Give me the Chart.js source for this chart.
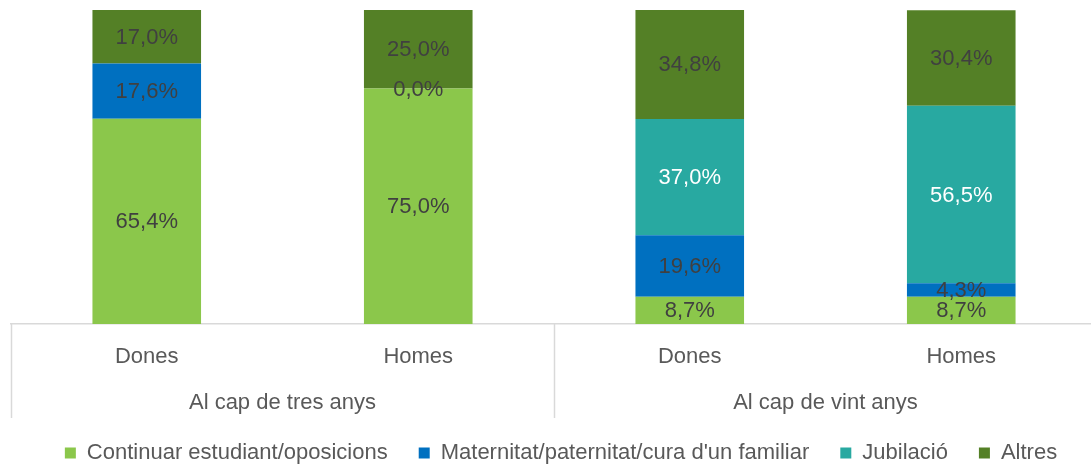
<!DOCTYPE html>
<html>
<head>
<meta charset="utf-8">
<script src="https://cdn.jsdelivr.net/npm/chart.js@4.4.1/dist/chart.umd.min.js"></script>
<style>
  html, body { margin: 0; padding: 0; background: #ffffff; overflow: hidden; width: 1091px; height: 466px; }
  #wrap { width: 1091px; height: 466px; overflow: hidden; position: relative; }
  canvas { display: block; }
</style>
</head>
<body>
<div id="wrap"><canvas id="c" width="1114" height="474"></canvas></div>
<script>
// ---- data ----
const categories = ['Dones', 'Homes', 'Dones', 'Homes'];
const groups = ['Al cap de tres anys', 'Al cap de vint anys'];
const seriesNames = ['Continuar estudiant/oposicions', "Maternitat/paternitat/cura d'un familiar", 'Jubilació', 'Altres'];
const continuar = [65.4, 75.0, 8.7, 8.7];
const maternitat = [17.6, 0.0, 19.6, 4.3];
const jubilacio = [null, null, 37.0, 56.5];
const altres = [17.0, 25.0, 34.8, 30.4];

const colors = ['#8BC74B', '#0070C0', '#28A9A1', '#548026'];
const labelColors = ['#404040', '#404040', '#ffffff', '#404040'];
const FONT = "'Liberation Sans', Arial, sans-serif";

const seriesValues = [continuar, maternitat, jubilacio, altres];

const valueLabels = {
  id: 'valueLabels',
  afterDatasetsDraw(chart) {
    const ctx = chart.ctx;
    ctx.save();
    ctx.font = '22px ' + FONT;
    ctx.textAlign = 'center';
    ctx.textBaseline = 'middle';
    chart.data.datasets.forEach((ds, di) => {
      const meta = chart.getDatasetMeta(di);
      meta.data.forEach((el, i) => {
        const v = ds.data[i];
        if (v === null || v === undefined) return;
        const p = el.getProps(['x', 'y', 'base'], true);
        ctx.fillStyle = labelColors[di];
        ctx.fillText(v.toFixed(1).replace('.', ',') + '%', p.x, (p.y + p.base) / 2 + 1);
      });
    });
    ctx.restore();
  }
};

const groupAxis = {
  id: 'groupAxis',
  afterDraw(chart) {
    const xs = chart.scales.x;
    const gs = chart.scales.x2;
    const ctx = chart.ctx;
    const top = chart.chartArea.bottom;
    const bottom = 418;
    const mid = (xs.getPixelForValue(1) + xs.getPixelForValue(2)) / 2;
    ctx.save();
    ctx.strokeStyle = '#d9d9d9';
    ctx.lineWidth = 1.5;
    [xs.left, mid, xs.right].forEach(x => {
      ctx.beginPath();
      ctx.moveTo(Math.round(x) + 0.5, top);
      ctx.lineTo(Math.round(x) + 0.5, bottom);
      ctx.stroke();
    });
    ctx.fillStyle = '#595959';
    ctx.font = '22px ' + FONT;
    ctx.textAlign = 'center';
    ctx.textBaseline = 'middle';
    groups.forEach((g, i) => {
      ctx.fillText(g, gs.getPixelForValue(i), 403);
    });
    ctx.restore();
  }
};

new Chart(document.getElementById('c'), {
  type: 'bar',
  data: {
    labels: categories,
    datasets: seriesNames.map((name, i) => ({
      label: name,
      data: seriesValues[i],
      backgroundColor: colors[i],
      borderWidth: 0,
      categoryPercentage: 1.0,
      barPercentage: 0.4
    }))
  },
  options: {
    responsive: false,
    animation: false,
    layout: { padding: { top: 10, left: 11, right: 3, bottom: 0 } },
    plugins: {
      tooltip: { enabled: false },
      legend: {
        position: 'bottom',
        labels: {
          boxWidth: 11,
          boxHeight: 11,
          padding: 31,
          color: '#595959',
          font: { family: FONT, size: 22 }
        }
      }
    },
    scales: {
      x: {
        stacked: true,
        weight: 0,
        grid: { display: false, drawTicks: false },
        border: { display: true, color: '#d9d9d9', width: 1.5 },
        ticks: { color: '#595959', font: { family: FONT, size: 22 }, padding: 20, maxRotation: 0 },
        afterFit(scale) { scale.height = 44; }
      },
      x2: {
        type: 'category',
        labels: groups,
        position: 'bottom',
        offset: true,
        weight: 1,
        grid: { display: false, drawTicks: false },
        border: { display: false },
        ticks: { display: false },
        afterFit(scale) { scale.height = 43; }
      },
      y: {
        stacked: true,
        position: 'right',
        min: 0,
        max: 100,
        grid: { display: false, drawTicks: false },
        border: { display: false },
        ticks: { display: false },
        afterFit(scale) { scale.width = 14; }
      }
    }
  },
  plugins: [valueLabels, groupAxis]
});
</script>
</body>
</html>
